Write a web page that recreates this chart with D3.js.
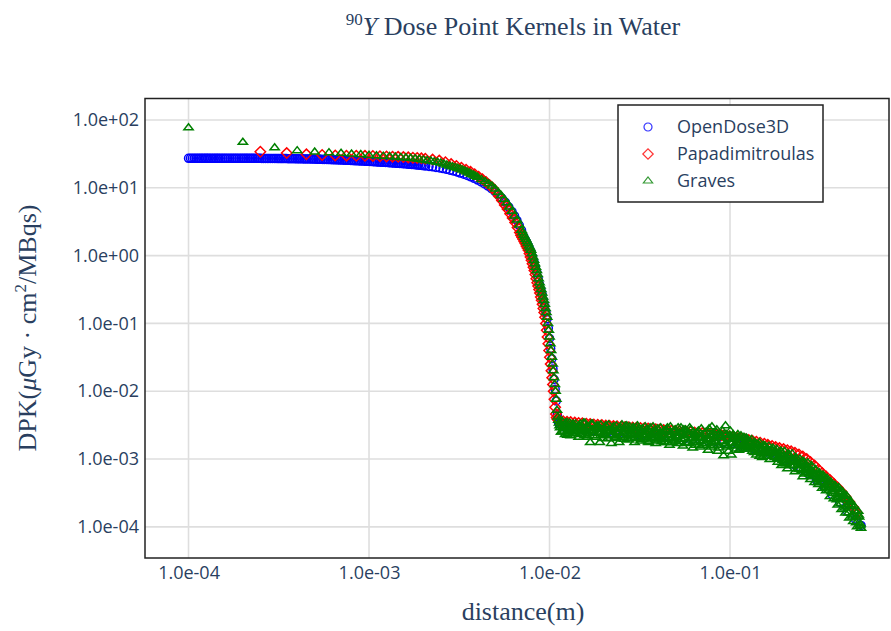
<!DOCTYPE html>
<html><head><meta charset="utf-8">
<script src="https://cdn.jsdelivr.net/npm/d3@7"></script>
<style>body{margin:0;background:#fff}</style>
</head><body>
<svg id="chart" width="891" height="631"></svg>
<script>
// ---------------- DATA (distance in mm, DPK in µGy·cm²/MBqs) ----------------
const seriesNames = ["OpenDose3D", "Papadimitroulas", "Graves"];
const xTickValues = [1e-4, 1e-3, 1e-2, 1e-1];
const yTickValues = [1e2, 1e1, 1e0, 1e-1, 1e-2, 1e-3, 1e-4];

const openDoseCore = [
[0.100,27.2],[0.105,27.2],[0.110,27.2],[0.115,27.2],[0.120,27.2],[0.125,27.2],[0.130,27.2],[0.136,27.2],
[0.142,27.2],[0.148,27.2],[0.155,27.2],[0.162,27.2],[0.170,27.2],[0.178,27.2],[0.186,27.2],[0.195,27.2],
[0.204,27.2],[0.213,27.2],[0.223,27.2],[0.233,27.2],[0.244,27.2],[0.255,27.1],[0.267,27.1],[0.279,27.1],
[0.292,27.1],[0.305,27.1],[0.319,27.0],[0.333,27.0],[0.348,27.0],[0.364,26.9],[0.381,26.9],[0.398,26.8],
[0.416,26.8],[0.435,26.7],[0.455,26.7],[0.476,26.6],[0.497,26.5],[0.520,26.4],[0.543,26.3],[0.568,26.2],
[0.594,26.1],[0.621,26.0],[0.649,25.9],[0.678,25.8],[0.709,25.6],[0.741,25.5],[0.775,25.4],[0.810,25.2],
[0.847,25.1],[0.885,24.9],[0.925,24.8],[0.967,24.6],[1.01,24.5],[1.06,24.3],[1.11,24.1],[1.16,23.9],
[1.21,23.8],[1.26,23.6],[1.32,23.4],[1.38,23.2],[1.44,23.0],[1.51,22.8],[1.58,22.6],[1.65,22.3],
[1.72,22.1],[1.80,21.9],[1.88,21.6],[1.97,21.3],[2.06,21.0],[2.15,20.7],[2.25,20.4],[2.35,20.0],
[2.46,19.6],[2.57,19.2],[2.69,18.7],[2.81,18.2],[2.93,17.7],[3.07,17.1],[3.20,16.5],[3.35,15.9],
[3.50,15.2],[3.66,14.5],[3.82,13.8],[4.00,13.0],[4.18,12.2],[4.37,11.4],[4.56,10.6],[4.77,9.7],
[4.99,8.8],[5.21,7.9],[5.45,7.0],[5.70,6.1],[5.95,5.2],[6.2,4.45],[6.4,3.85],[6.6,3.3],[6.8,2.8],[7.0,2.35],
[7.15,1.98],[7.3,1.77],[7.45,1.60],[7.6,1.43],[7.75,1.27],[7.9,1.14],[8.05,0.96],[8.2,0.81],[8.35,0.68],
[8.5,0.57],[8.65,0.465],[8.8,0.378],[8.95,0.318],[9.1,0.268],[9.25,0.22],[9.4,0.181],[9.55,0.147],
[9.7,0.117],[9.85,0.085],[10.0,0.060],[10.15,0.0425],[10.3,0.030],[10.45,0.0213],[10.6,0.015],
[10.75,0.0107],[10.9,0.0072],[11.05,0.0045],[11.2,0.0035]
];
const openDoseFine = [
[0.1025,27.2],[0.1075,27.2],[0.1125,27.2],[0.1175,27.2],[0.1225,27.2],[0.1275,27.2],[0.133,27.2],[0.139,27.2],
[0.145,27.2],[0.1515,27.2],[0.1585,27.2],[0.166,27.2],[0.174,27.2],[0.182,27.2],[0.1905,27.2],[0.1995,27.2],
[0.2085,27.2],[0.218,27.2],[0.228,27.2],[0.2385,27.2],[0.2495,27.2],[0.261,27.1],[0.273,27.1],[0.2855,27.1],
[0.2985,27.1],[0.312,27.0],[0.326,27.0],[0.3405,27.0],[0.356,26.9],[0.3725,26.9],[0.3895,26.85],[0.407,26.8],
[0.4255,26.75],[0.445,26.7],[0.4655,26.65],[0.4865,26.55],[0.5085,26.45],[0.5315,26.35],[0.5555,26.25],
[0.581,26.15],[0.6075,26.05],[0.635,25.95],[0.6635,25.85],[0.6935,25.7],[0.725,25.55],[0.758,25.45],
[0.7925,25.3],[0.8285,25.15],[0.866,25.0],[0.905,24.85],[0.946,24.7],[0.9885,24.55],[1.035,24.4],
[1.085,24.2],[1.135,24.0],[1.185,23.85],[1.235,23.7],[1.29,23.5],[1.35,23.3],[1.41,23.1],[1.475,22.9],
[1.545,22.7],[1.615,22.45],[1.685,22.2],[1.76,22.0],[1.84,21.75],[1.925,21.45],[2.015,21.15]
];
const openDoseTail = [
[11.3,3.3e-3],[11.9,3.0e-3],[12.8,2.8e-3],[14.1,2.7e-3],[15.6,2.65e-3],[17.2,2.6e-3],[19.0,2.55e-3],
[21.0,2.5e-3],[23.2,2.45e-3],[25.5,2.4e-3],[28.2,2.35e-3],[31.1,2.3e-3],[34.3,2.25e-3],[37.9,2.2e-3],
[41.8,2.15e-3],[46.2,2.1e-3],[51.0,2.05e-3],[56.2,2.0e-3],[62.1,1.95e-3],[68.5,1.9e-3],[75.6,1.85e-3],
[83.5,1.8e-3],[92.1,1.75e-3],[101.7,1.7e-3],[112,1.6e-3],[124,1.5e-3],[137,1.4e-3],[151,1.3e-3],
[166,1.2e-3],[184,1.08e-3],[203,9.6e-4],[224,8.4e-4],[247,7.2e-4],[273,6.0e-4],[301,4.9e-4],
[332,3.9e-4],[367,3.0e-4],[405,2.3e-4],[447,1.7e-4],[494,1.3e-4],[532,1.05e-4]
];

const papaCore = [
[0.25,34.0],[0.35,32.5],[0.45,31.2],[0.55,30.5],[0.65,30.0],[0.75,29.8],[0.85,29.7],[0.95,29.6],
[1.05,29.5],[1.15,29.2],[1.25,29.0],[1.35,28.8],[1.45,28.6],[1.55,28.4],[1.65,28.1],[1.75,27.8],
[1.85,27.5],[1.95,27.2],[2.05,26.9],[2.25,26.1],[2.45,25.2],[2.65,23.9],[2.85,22.4],[3.05,21.0],
[3.25,19.8],[3.45,18.5],[3.65,17.2],[3.85,15.9],[4.05,14.6],[4.25,13.4],[4.45,12.2],[4.65,11.0],
[4.85,9.9],[5.05,8.7],[5.25,7.5],[5.45,6.5],[5.65,5.6],[5.85,4.85],[6.05,4.15],[6.25,3.6],
[6.45,3.08],[6.65,2.6],[6.85,2.2],[6.95,2.00],[7.05,1.86],[7.15,1.74],[7.25,1.62],[7.35,1.51],
[7.45,1.38],[7.55,1.29],[7.65,1.20],[7.75,1.07],[7.85,0.955],[7.95,0.851],[8.05,0.759],[8.15,0.676],
[8.25,0.603],[8.35,0.525],[8.45,0.457],[8.55,0.398],[8.65,0.355],[8.75,0.316],[8.85,0.282],[8.95,0.245],
[9.05,0.219],[9.15,0.191],[9.25,0.166],[9.35,0.145],[9.45,0.123],[9.55,0.100],[9.65,0.0794],[9.75,0.0631],
[9.85,0.0501],[9.95,0.0398],[10.05,0.0316],[10.15,0.0251],[10.25,0.0200],[10.35,0.0158],[10.45,0.0126],
[10.55,0.0100],[10.65,0.00759],[10.75,0.0058],[10.85,0.0046],[10.95,0.0041],[11.05,0.0039],[11.15,0.0038]
];
const papaTail = [
[11.3,3.65e-3],[11.9,3.6e-3],[12.5,3.55e-3],[13.1,3.5e-3],[13.8,3.45e-3],[14.5,3.4e-3],[15.2,3.36e-3],
[16.0,3.32e-3],[16.8,3.28e-3],[17.6,3.24e-3],[18.5,3.21e-3],[19.5,3.17e-3],[20.5,3.13e-3],[21.5,3.10e-3],
[22.6,3.06e-3],[23.7,3.03e-3],[24.9,3.0e-3],[26.2,2.97e-3],[27.5,2.94e-3],[28.9,2.91e-3],[30.3,2.89e-3],
[31.9,2.87e-3],[33.5,2.84e-3],[35.2,2.81e-3],[37.0,2.78e-3],[38.8,2.75e-3],[40.8,2.72e-3],[42.9,2.69e-3],
[45.0,2.66e-3],[47.3,2.63e-3],[49.7,2.6e-3],[52.2,2.57e-3],[54.9,2.55e-3],[57.6,2.52e-3],[60.5,2.5e-3],
[63.6,2.47e-3],[66.8,2.44e-3],[70.2,2.41e-3],[73.8,2.38e-3],[77.5,2.35e-3],[81.4,2.31e-3],[85.5,2.28e-3],
[89.9,2.24e-3],[94.4,2.2e-3],[99.2,2.16e-3],[104,2.11e-3],[109,2.06e-3],[115,2.01e-3],[121,1.96e-3],
[127,1.91e-3],[133,1.86e-3],[140,1.8e-3],[147,1.74e-3],[155,1.68e-3],[162,1.62e-3],[171,1.56e-3],
[179,1.5e-3],[188,1.45e-3],[198,1.4e-3],[208,1.35e-3],[218,1.3e-3],[229,1.24e-3],[241,1.17e-3],
[253,1.09e-3],[266,1.0e-3],[279,9.0e-4],[294,8.0e-4],[309,7.0e-4],[324,6.2e-4],[341,5.5e-4],
[358,4.9e-4],[376,4.3e-4],[395,3.8e-4],[415,3.3e-4],[436,2.8e-4],[458,2.35e-4],[482,1.95e-4],[506,1.6e-4]
];

const gravesCore = [
[0.1,77],[0.2,47],[0.3,39],[0.4,35.3],[0.5,33.8],[0.6,33.0],[0.7,32.3],[0.8,31.6],[0.9,30.9],[1.0,30.2],
[1.1,29.7],[1.2,29.3],[1.3,28.9],[1.4,28.5],[1.5,28.1],[1.6,27.7],[1.7,27.3],[1.8,26.8],[1.9,26.3],[2.0,25.8],
[2.1,25.3],[2.2,24.8],[2.3,24.3],[2.4,23.8],[2.5,23.2],[2.6,22.5],[2.7,21.7],[2.8,21.0],[2.9,20.5],[3.0,20.0],
[3.1,19.5],[3.2,18.9],[3.3,18.3],[3.4,17.7],[3.5,17.1],[3.6,16.5],[3.7,15.9],[3.8,15.4],[3.9,14.8],[4.0,14.3],
[4.2,13.3],[4.4,12.4],[4.6,11.5],[4.8,10.6],[5.0,9.6],[5.2,8.6],[5.4,7.7],[5.6,6.8],[5.8,6.0],[6.0,5.2],
[6.2,4.5],[6.4,3.85],[6.6,3.35],[6.8,2.82],[7.0,2.37],[7.1,2.18],[7.2,2.00],[7.3,1.86],[7.4,1.74],[7.5,1.62],
[7.6,1.51],[7.7,1.38],[7.8,1.29],[7.9,1.20],[8.0,1.07],[8.1,0.955],[8.2,0.851],[8.3,0.759],[8.4,0.676],
[8.5,0.603],[8.6,0.525],[8.7,0.457],[8.8,0.398],[8.9,0.355],[9.0,0.316],[9.1,0.282],[9.2,0.245],[9.3,0.219],
[9.4,0.191],[9.5,0.166],[9.6,0.145],[9.7,0.123],[9.8,0.100],[9.9,0.0794],[10.0,0.0631],[10.1,0.0501],
[10.2,0.0398],[10.3,0.0316],[10.4,0.0251],[10.5,0.0200],[10.6,0.0158],[10.7,0.0126],[10.8,0.0100],
[10.9,0.00759],[11.0,0.00525],[11.1,0.00417],[11.2,0.00372]
];
const gravesTail = [
[11.3,3.4e-3],[11.6,2.5e-3],[11.9,3.0e-3],[12.2,2.3e-3],[12.5,3.5e-3],[12.8,2.7e-3],[13.1,2.2e-3],[13.4,3.2e-3],
[13.8,2.5e-3],[14.1,2.9e-3],[14.5,2.1e-3],[14.8,3.3e-3],[15.2,2.6e-3],[15.6,2.2e-3],[16.0,3.0e-3],[16.4,2.4e-3],
[16.8,1.75e-3],[17.2,3.2e-3],[17.6,2.6e-3],[18.1,2.1e-3],[18.5,2.9e-3],[19.0,1.75e-3],[19.5,2.7e-3],[20.0,2.3e-3],
[20.5,3.1e-3],[21.0,2.0e-3],[21.5,2.6e-3],[22.0,1.7e-3],[22.6,3.0e-3],[23.2,2.2e-3],[23.7,2.5e-3],[24.3,1.75e-3],
[24.9,2.9e-3],[25.5,2.1e-3],[26.2,2.4e-3],[26.8,3.1e-3],[27.5,1.9e-3],[28.2,2.6e-3],[28.9,2.2e-3],[29.6,1.75e-3],
[30.3,2.9e-3],[31.1,2.3e-3],[31.9,1.85e-3],[32.7,2.8e-3],[33.5,2.1e-3],[34.3,2.5e-3],[35.2,1.8e-3],[36.1,2.9e-3],
[37.0,2.0e-3],[37.9,2.4e-3],[38.8,1.7e-3],[39.8,2.8e-3],[40.8,2.1e-3],[41.8,1.8e-3],[42.9,2.6e-3],[43.9,2.0e-3],
[45.0,2.9e-3],[46.2,1.6e-3],[47.3,2.3e-3],[48.5,1.9e-3],[49.7,2.7e-3],[51.0,1.7e-3],[52.2,2.2e-3],[53.5,2.9e-3],
[54.9,1.55e-3],[56.2,2.0e-3],[57.6,2.5e-3],[59.1,1.75e-3],[60.5,2.7e-3],[62.1,1.45e-3],[63.6,2.2e-3],[65.2,1.85e-3],
[66.8,2.6e-3],[68.5,1.5e-3],[70.2,2.1e-3],[72.0,1.7e-3],[73.8,2.5e-3],[75.6,1.35e-3],[77.5,1.95e-3],[79.4,3.0e-3],
[81.4,1.6e-3],[83.5,2.2e-3],[85.5,1.3e-3],[87.7,2.4e-3],[89.9,1.8e-3],[92.1,1.12e-3],[94.4,3.1e-3],[96.8,1.5e-3],
[99.2,2.2e-3],[101.7,1.15e-3],[104,2.3e-3],[107,1.6e-3],[109,2.0e-3],[112,1.35e-3],[115,2.2e-3],[118,1.7e-3],
[121,1.4e-3],[124,2.0e-3],[127,1.5e-3],[130,1.8e-3],[133,1.3e-3],[137,1.75e-3],[140,1.15e-3],[144,1.6e-3],
[147,1.35e-3],[151,1.05e-3],[155,1.55e-3],[158,1.2e-3],[162,1.4e-3],[166,0.98e-3],[171,1.35e-3],[175,1.1e-3],
[179,1.3e-3],[184,0.9e-3],[188,1.2e-3],[193,0.8e-3],[198,1.1e-3],[203,0.95e-3],[208,0.72e-3],[213,1.15e-3],
[218,0.8e-3],[224,0.95e-3],[229,0.65e-3],[235,0.9e-3],[241,0.7e-3],[247,0.85e-3],[253,0.55e-3],[260,0.8e-3],
[266,0.62e-3],[273,0.75e-3],[279,0.5e-3],[286,0.66e-3],[294,0.45e-3],[301,0.6e-3],[309,0.42e-3],[316,0.55e-3],
[324,0.37e-3],[332,0.5e-3],[341,0.34e-3],[349,0.46e-3],[358,0.28e-3],[367,0.42e-3],[376,0.26e-3],[386,0.36e-3],
[395,0.21e-3],[405,0.33e-3],[415,0.18e-3],[426,0.28e-3],[436,0.16e-3],[447,0.25e-3],[458,0.135e-3],[470,0.21e-3],
[482,0.12e-3],[494,0.17e-3],[506,0.10e-3],[519,0.14e-3],[532,0.095e-3]
];
const gravesTailB = [
[11.45,2.9e-3],[11.75,3.6e-3],[12.05,2.6e-3],[12.35,3.1e-3],[12.65,2.4e-3],[12.95,3.4e-3],[13.25,2.8e-3],
[13.6,2.35e-3],[13.95,3.3e-3],[14.3,2.6e-3],[14.65,3.0e-3],[15.0,2.3e-3],[15.4,3.4e-3],[15.8,2.7e-3],
[16.2,2.1e-3],[16.6,2.9e-3],[17.0,3.3e-3],[17.4,2.2e-3],[17.85,2.8e-3],[18.3,3.1e-3],[18.75,2.4e-3],
[19.25,3.2e-3],[19.75,2.0e-3],[20.25,2.8e-3],[20.75,2.5e-3],[21.25,3.2e-3],[21.75,2.2e-3],[22.3,2.8e-3],
[22.9,2.0e-3],[23.45,3.1e-3],[24.0,2.4e-3],[24.6,2.7e-3],[25.2,3.2e-3],[25.85,1.95e-3],[26.5,2.7e-3],
[27.15,2.3e-3],[27.85,3.0e-3],[28.55,2.0e-3],[29.25,2.8e-3],[29.95,2.4e-3],[30.7,3.1e-3],[31.5,2.0e-3],
[32.3,2.6e-3],[33.1,2.3e-3],[33.9,3.0e-3],[34.75,1.9e-3],[35.65,2.6e-3],[36.55,2.2e-3],[37.45,3.0e-3],
[38.35,2.1e-3],[39.3,2.5e-3],[40.3,1.9e-3],[41.3,2.9e-3],[42.35,2.3e-3],[43.4,1.75e-3],[44.45,2.6e-3],
[45.6,2.2e-3],[46.75,3.0e-3],[47.9,1.75e-3],[49.1,2.5e-3],[50.35,2.1e-3],[51.6,2.9e-3],[52.85,1.8e-3],
[54.2,2.4e-3],[55.55,2.7e-3],[56.9,1.7e-3],[58.35,2.3e-3],[59.8,2.9e-3],[61.3,2.0e-3],[62.85,2.5e-3],
[64.4,1.6e-3],[66.0,2.4e-3],[67.65,2.0e-3],[69.35,2.8e-3],[71.1,1.6e-3],[72.9,2.3e-3],[74.7,1.9e-3],
[76.55,2.8e-3],[78.45,1.5e-3],[80.4,2.2e-3],[82.45,1.8e-3],[84.5,2.7e-3],[86.6,1.45e-3],[88.8,2.1e-3],
[91.0,2.6e-3],[93.25,1.6e-3],[95.6,2.3e-3],[98.0,1.3e-3],[100.4,2.6e-3],[102.8,1.7e-3],[105.5,2.1e-3],
[108,1.4e-3],[110.5,2.3e-3],[113.5,1.75e-3],[116.5,1.5e-3],[119.5,2.1e-3],[122.5,1.6e-3],[125.5,1.9e-3],
[128.5,1.4e-3],[131.5,1.95e-3],[135,1.5e-3],[138.5,1.7e-3],[142,1.3e-3],[145.5,1.75e-3],[149,1.2e-3],
[153,1.6e-3],[156.5,1.35e-3],[160,1.1e-3],[164,1.55e-3],[168.5,1.2e-3],[173,1.45e-3],[177,1.05e-3],
[181.5,1.4e-3],[186,1.0e-3],[190.5,1.3e-3],[195.5,0.95e-3],[200.5,1.3e-3],[205.5,0.85e-3],[210.5,1.2e-3],
[215.5,0.95e-3],[221,1.2e-3],[226.5,0.8e-3],[232,1.05e-3],[238,0.8e-3],[244,1.0e-3],[250,0.68e-3],
[256.5,0.92e-3],[263,0.7e-3],[269.5,0.88e-3],[276,0.6e-3],[282.5,0.8e-3],[290,0.56e-3],[297.5,0.7e-3],
[305,0.5e-3],[312.5,0.63e-3],[320,0.45e-3],[328,0.58e-3],[336.5,0.4e-3],[345,0.52e-3],[353.5,0.35e-3],
[362.5,0.46e-3],[371.5,0.31e-3],[381,0.41e-3],[390.5,0.25e-3],[400,0.38e-3],[410,0.22e-3],[420.5,0.33e-3],
[431,0.19e-3],[441.5,0.29e-3],[452.5,0.16e-3],[464,0.24e-3],[476,0.14e-3],[488,0.2e-3],[500,0.115e-3],
[512.5,0.17e-3],[525.5,0.105e-3]
];
const gravesTailC = [
[11.37,3.1e-3],[11.67,2.5e-3],[11.97,2.8e-3],[12.27,3.4e-3],[12.57,2.25e-3],[12.87,2.95e-3],[13.17,2.6e-3],
[13.5,3.3e-3],[13.87,2.4e-3],[14.2,2.8e-3],[14.57,3.1e-3],[14.9,2.5e-3],[15.3,2.8e-3],[15.7,3.4e-3],
[16.1,2.25e-3],[16.5,2.95e-3],[16.9,2.6e-3],[17.3,3.3e-3],[17.7,2.4e-3],[18.2,2.8e-3],[18.6,3.1e-3],
[19.1,2.8e-3],[19.6,2.2e-3],[20.1,2.5e-3],[20.6,3.05e-3],[21.1,2.0e-3],[21.6,2.6e-3],[22.15,2.3e-3],
[22.75,2.95e-3],[23.3,2.1e-3],[23.85,2.5e-3],[24.45,2.8e-3],[25.05,2.2e-3],[25.65,2.5e-3],[26.35,3.05e-3],
[27.0,2.0e-3],[27.7,2.6e-3],[28.4,2.3e-3],[29.1,2.95e-3],[29.8,2.1e-3],[30.5,2.5e-3],[31.3,2.8e-3],
[32.1,2.45e-3],[32.9,1.95e-3],[33.7,2.2e-3],[34.5,2.7e-3],[35.4,1.75e-3],[36.3,2.3e-3],[37.2,2.0e-3],
[38.1,2.6e-3],[39.0,1.85e-3],[40.0,2.2e-3],[41.0,2.45e-3],[42.1,1.95e-3],[43.1,2.2e-3],[44.2,2.7e-3],
[45.3,1.75e-3],[46.5,2.3e-3],[47.6,2.0e-3],[48.8,2.6e-3],[50.0,1.85e-3],[51.3,2.2e-3],[52.5,2.45e-3],
[53.9,1.95e-3],[55.2,2.2e-3],[56.6,2.7e-3],[58.0,1.75e-3],[59.4,2.3e-3],[60.9,2.25e-3],[62.5,1.75e-3],
[64.0,2.0e-3],[65.6,2.45e-3],[67.2,1.6e-3],[68.9,2.1e-3],[70.7,1.85e-3],[72.5,2.35e-3],[74.3,1.7e-3],
[76.1,2.0e-3],[78.0,2.25e-3],[80.0,1.75e-3],[82.0,2.0e-3],[84.0,2.45e-3],[86.0,1.6e-3],[88.3,2.1e-3],
[90.5,1.85e-3],[92.7,2.35e-3],[95.0,1.7e-3],[97.4,2.0e-3],[99.8,2.25e-3],[102.3,1.95e-3],[105,1.55e-3],
[108,1.75e-3],[111,2.1e-3],[114,1.4e-3],[117,1.85e-3],[120,1.6e-3],[123,2.05e-3],[126,1.5e-3],[129,1.75e-3],
[132,1.55e-3],[136,1.25e-3],[139,1.4e-3],[143,1.65e-3],[146,1.1e-3],[150,1.45e-3],[154,1.25e-3],[157,1.55e-3],
[161,1.1e-3],[165,1.3e-3],[170,1.4e-3],[174,1.1e-3],[178,1.25e-3],[183,1.0e-3],[187,1.1e-3],[192,1.3e-3],
[197,0.85e-3],[202,1.05e-3],[207,0.9e-3],[212,1.1e-3],[217,0.8e-3],[222,0.95e-3],[227,1.0e-3],[233,0.92e-3],
[239,0.72e-3],[245,0.8e-3],[251,0.93e-3],[258,0.6e-3],[264,0.75e-3],[271,0.64e-3],[277,0.68e-3],[284,0.55e-3],
[292,0.58e-3],[299,0.68e-3],[307,0.45e-3],[314,0.52e-3],[322,0.46e-3],[330,0.55e-3],[339,0.38e-3],[347,0.42e-3],
[356,0.42e-3],[365,0.33e-3],[374,0.36e-3],[384,0.4e-3],[393,0.27e-3],[403,0.31e-3],[413,0.26e-3],[424,0.3e-3],
[434,0.26e-3],[445,0.2e-3],[456,0.21e-3],[467,0.23e-3],[479,0.15e-3],[491,0.17e-3],[503,0.14e-3],[516,0.15e-3],
[528,0.11e-3]
];

// ---------------- LAYOUT ----------------
const MM_TO_M = 1e-3;
const plot = {left: 145, top: 98.5, right: 889, bottom: 558};
const colors = ["#0000ff", "#ff0000", "#008000"];
const textColor = "#2a3f5f";
const sansFont = "'Open Sans', sans-serif";
const serifFont = "'Liberation Serif', 'Times New Roman', serif";
const markerStroke = 1.5;

const x = d3.scaleLog().domain([5.74e-5, 0.760]).range([plot.left, plot.right]);
const y = d3.scaleLog().domain([207.5, 3.47e-5]).range([plot.top, plot.bottom]);

const svg = d3.select("#chart");
svg.append("rect").attr("width", 891).attr("height", 631).attr("fill", "#fff");

const fmt = v => v.toExponential(1).replace(/e([+-])(\d)$/, "e$10$2");

// grid
const grid = svg.append("g");
grid.selectAll("line.gx").data(xTickValues).join("line").attr("class", "gx")
  .attr("x1", d => x(d)).attr("x2", d => x(d)).attr("y1", plot.top).attr("y2", plot.bottom)
  .attr("stroke", "#dedede").attr("stroke-width", 1.6);
grid.selectAll("line.gy").data(yTickValues).join("line").attr("class", "gy")
  .attr("y1", d => y(d)).attr("y2", d => y(d)).attr("x1", plot.left).attr("x2", plot.right)
  .attr("stroke", "#dedede").attr("stroke-width", 1.6);

// axes (labels)
const xAxis = svg.append("g").attr("transform", `translate(0,${plot.bottom})`)
  .call(d3.axisBottom(x).tickValues(xTickValues).tickFormat(fmt).tickSize(0).tickPadding(8));
const yAxis = svg.append("g").attr("transform", `translate(${plot.left},0)`)
  .call(d3.axisLeft(y).tickValues(yTickValues).tickFormat(fmt).tickSize(0).tickPadding(6));
[xAxis, yAxis].forEach(a => {
  a.select(".domain").remove();
  a.selectAll("text").attr("fill", textColor).style("font-family", sansFont).style("font-size", "18px");
});

// markers
const symbolPaths = [
  "M4,0A4,4 0 1,1 0,-4A4,4 0 0,1 4,0Z",
  "M5.2,0L0,5.2L-5.2,0L0,-5.2Z",
  "M-4.62,2H4.62L0,-4Z"
];
const series = [
  openDoseCore.concat(openDoseFine, openDoseTail),
  papaCore.concat(papaTail),
  gravesCore.concat(gravesTail, gravesTailB, gravesTailC)
];
svg.append("clipPath").attr("id", "clip").append("rect")
  .attr("x", plot.left).attr("y", plot.top).attr("width", plot.right - plot.left).attr("height", plot.bottom - plot.top);
const marks = svg.append("g").attr("clip-path", "url(#clip)");
series.forEach((data, i) => {
  marks.append("g").selectAll("path").data(data).join("path")
    .attr("transform", d => `translate(${x(d[0] * MM_TO_M)},${y(d[1])})`)
    .attr("d", symbolPaths[i]).attr("fill", "none")
    .attr("stroke", colors[i]).attr("stroke-width", markerStroke);
});

// frame
svg.append("rect").attr("x", plot.left).attr("y", plot.top)
  .attr("width", plot.right - plot.left).attr("height", plot.bottom - plot.top)
  .attr("fill", "none").attr("stroke", "#222").attr("stroke-width", 1.5);

// legend
const lg = svg.append("g");
lg.append("rect").attr("x", 618).attr("y", 105).attr("width", 205).attr("height", 97)
  .attr("fill", "#fff").attr("stroke", "#222").attr("stroke-width", 1.5);
seriesNames.forEach((name, i) => {
  const cy = 127 + i * 27;
  lg.append("path").attr("transform", `translate(648,${cy})`).attr("d", symbolPaths[i])
    .attr("fill", "none").attr("stroke", colors[i]).attr("stroke-width", 1.2).attr("opacity", 0.8);
  lg.append("text").attr("x", 677).attr("y", cy + 6).text(name)
    .attr("fill", textColor).style("font-family", sansFont).style("font-size", "18px");
});

// title
const title = svg.append("text").attr("x", 513).attr("y", 35).attr("text-anchor", "middle")
  .attr("fill", textColor).style("font-family", serifFont).style("font-size", "26px");
title.append("tspan").text("90").style("font-size", "17px").attr("dy", -10);
title.append("tspan").text("Y").style("font-style", "italic").attr("dy", 10);
title.append("tspan").text(" Dose Point Kernels in Water");

// axis titles
svg.append("text").attr("x", 523).attr("y", 620).attr("text-anchor", "middle")
  .attr("fill", textColor).style("font-family", serifFont).style("font-size", "26px").text("distance(m)");
const yt = svg.append("text").attr("transform", "translate(36,328) rotate(-90)").attr("text-anchor", "middle")
  .attr("fill", textColor).style("font-family", serifFont).style("font-size", "26px");
yt.append("tspan").text("DPK(");
yt.append("tspan").text("μ").style("font-style", "italic");
yt.append("tspan").text("Gy · cm");
yt.append("tspan").text("2").style("font-size", "17px").attr("dy", -10);
yt.append("tspan").text("/MBqs)").attr("dy", 10);
</script>
</body></html>
